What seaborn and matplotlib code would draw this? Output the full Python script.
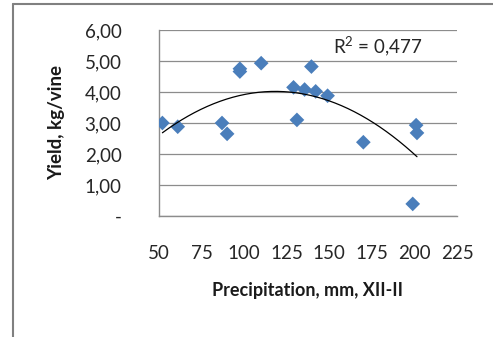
import numpy as np
import pandas as pd
import matplotlib
matplotlib.use("Agg")
import matplotlib.pyplot as plt
from matplotlib.lines import Line2D
import seaborn as sns

# Data
precip = [52, 61, 87, 90, 97.5, 97.5, 110, 129, 131, 135.5, 139.5, 142, 149, 170, 199, 201, 201.5]
yield_kg = [3.00, 2.88, 3.00, 2.65, 4.75, 4.66, 4.93, 4.15, 3.10, 4.08, 4.82, 4.02, 3.88, 2.38, 0.39, 2.93, 2.68]
# 2nd-order trendline coefficients (a, b, c) as drawn in the reference
trend_coef = [-0.000304, 0.0719, -0.232]
x_ticks = [50, 75, 100, 125, 150, 175, 200, 225]
y_ticks = [0, 1, 2, 3, 4, 5, 6]
y_tick_labels = ["-", "1,00", "2,00", "3,00", "4,00", "5,00", "6,00"]
r2_label = "R$^2$ = 0,477"
x_label = "Precipitation, mm, XII-II"
y_label = "Yield, kg/vine"

sns.set_theme(style="white")
plt.rcParams['font.family'] = ['Lato', 'DejaVu Sans']
plt.rcParams['mathtext.fontset'] = 'custom'
plt.rcParams['mathtext.rm'] = 'Lato'

df = pd.DataFrame({"precip": precip, "yield": yield_kg})

fig = plt.figure(figsize=(4.93, 3.37), dpi=100)
ax = fig.add_axes([159/493, 1-216/337, (457-159)/493, (216-30)/337])

sns.scatterplot(data=df, x="precip", y="yield", marker="D", s=56,
                color="#4A7EBB", edgecolor="none", ax=ax, zorder=3)

xs = np.linspace(min(precip), max(precip), 200)
ax.plot(xs, np.polyval(trend_coef, xs), color="black", lw=0.9, zorder=4)

ax.set_xlim(50, 225)
ax.set_ylim(0, 6)
ax.set_xticks(x_ticks)
ax.set_xticklabels([str(t) for t in x_ticks])
ax.set_yticks(y_ticks)
ax.set_yticklabels(y_tick_labels)
ax.grid(axis="y", color="#8C8C8C", lw=0.9)
ax.grid(axis="x", visible=False)
for s in ["top", "right"]:
    ax.spines[s].set_visible(False)
for s in ["left", "bottom"]:
    ax.spines[s].set_color("#8C8C8C")
    ax.spines[s].set_linewidth(1.0)
ax.tick_params(axis="both", which="both", direction="out", length=5, width=1,
               color="#8C8C8C", labelsize=13.5, labelcolor="#262626")
ax.tick_params(axis="x", pad=16)
ax.tick_params(axis="y", pad=22)

ax.set_xlabel(x_label, fontsize=13, fontweight="bold", color="#1a1a1a", labelpad=14)
ax.set_ylabel(y_label, fontsize=13.5, fontweight="bold", color="#1a1a1a", labelpad=14)

fig.text(378/493, 1-47/337, r2_label, fontsize=13.5, color="#262626",
         ha="center", va="center")

# chart border (top and left edge)
fig.add_artist(Line2D([13/493, 1], [1-4/337, 1-4/337], transform=fig.transFigure,
                      color="#808080", lw=1.5))
fig.add_artist(Line2D([13/493, 13/493], [0, 1-4/337], transform=fig.transFigure,
                      color="#808080", lw=1.5))

fig.savefig("out.png", dpi=100)
